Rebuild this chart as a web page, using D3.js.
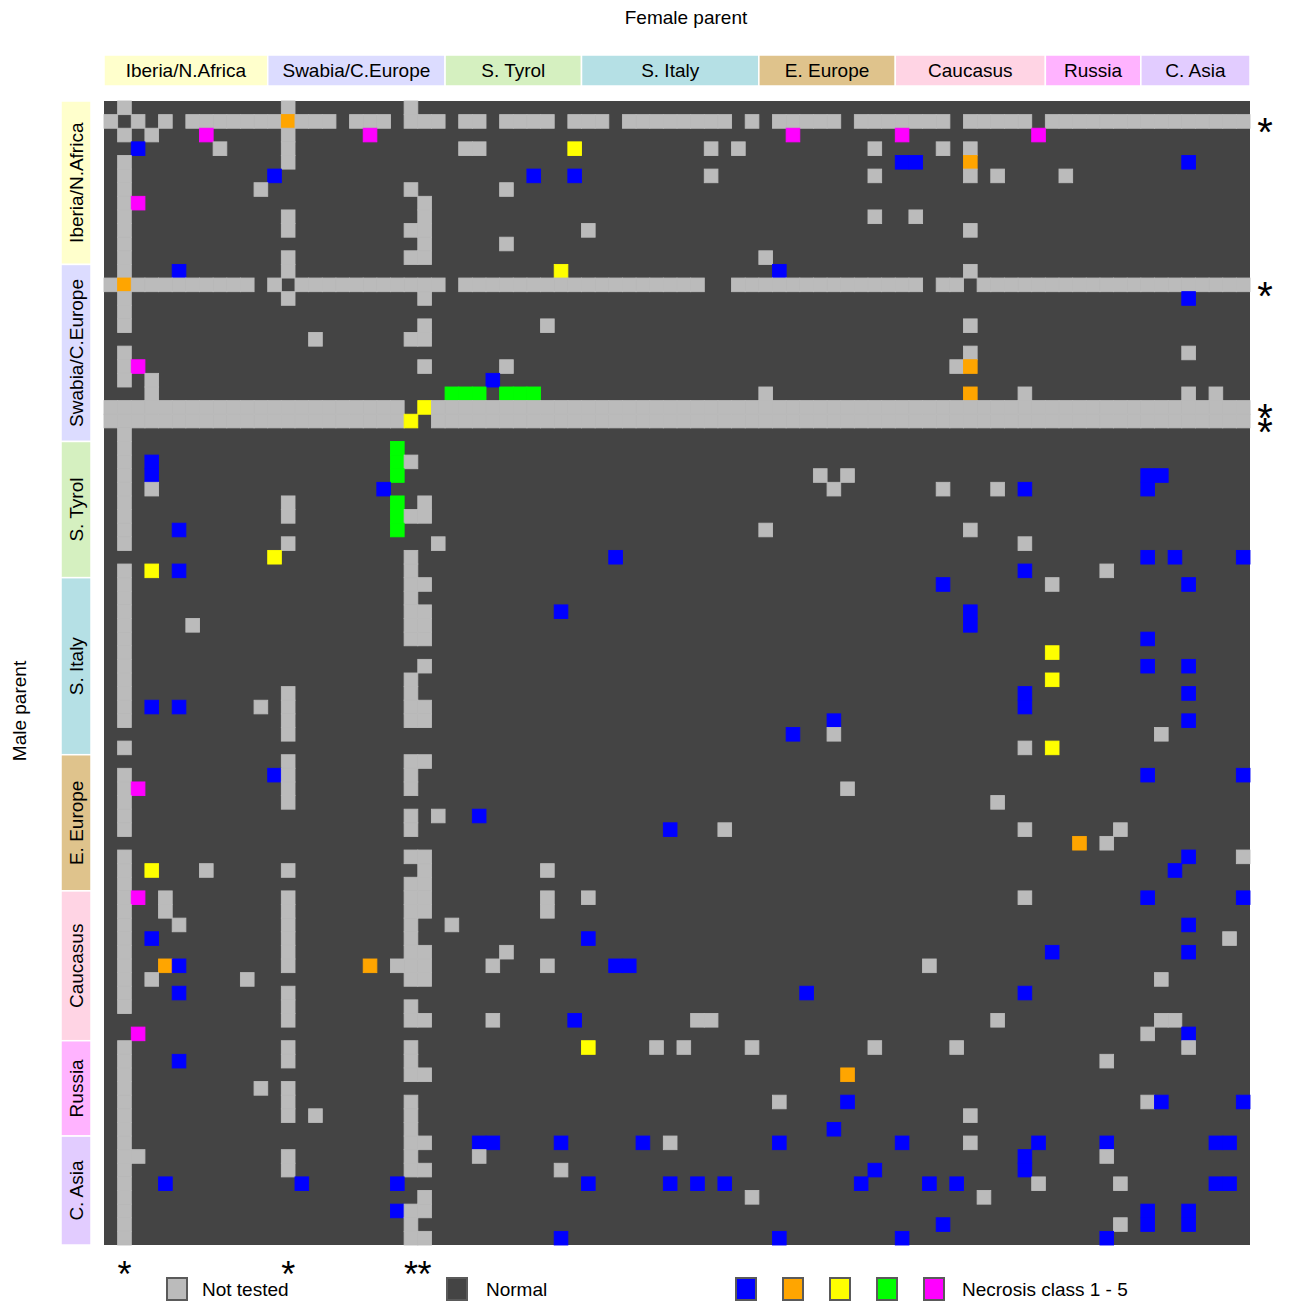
<!DOCTYPE html>
<html>
<head>
<meta charset="utf-8">
<script src="https://cdn.jsdelivr.net/npm/d3@7"></script>
<style>
  body { margin: 0; background: #fff; }
  svg { display: block; font-family: "Liberation Sans", Arial, Helvetica, sans-serif; }
</style>
</head>
<body>
<svg id="chart" width="1291" height="1304"></svg>
<script>
// regions, in the same order along both axes
const regions = ["Iberia/N.Africa", "Swabia/C.Europe", "S. Tyrol", "S. Italy", "E. Europe", "Caucasus", "Russia", "C. Asia"];
const regionSizes = [12, 13, 10, 13, 10, 11, 7, 8];
const regionColors = ["#ffffcc", "#dcdcff", "#d5f0c0", "#b5e0e5", "#dfc38c", "#ffd4e4", "#ffb3ff", "#e2ccff"];

// lines flagged with an asterisk
const flaggedRows = [1, 13, 22, 23];
const flaggedCols = [1, 13, 22, 23];

// crosses: one string per male parent (row), one char per female parent (column)
// '.' normal, 'g' not tested, '1'..'5' necrosis class; spaces only split the regions
const crosses = [
  ".g.......... .g........g.. .......... ............. .......... ........... ....... ........",
  "g.g.g.gggggg g2ggg.ggg.ggg .gg.gggg.g gg.gggggggg.g .ggggg.ggg gggg.ggggg. ggggggg gggggggg",
  ".g.g...5.... .g.....5..... .......... ............. ..5....... 5.........5 ....... ........",
  "..1.....g... .g........... .gg......3 .........g.g. ........g. ...g.g..... ....... ........",
  ".g.......... .g........... .......... ............. .......... 11...2..... ....... ...1....",
  ".g.......... 1............ ......1..1 .........g... ........g. .....g.g... .g..... ........",
  ".g.........g ..........g.. ....g..... ............. .......... ........... ....... ........",
  ".g5......... ...........g. .......... ............. .......... ........... ....... ........",
  ".g.......... .g.........g. .......... ............. ........g. .g......... ....... ........",
  ".g.......... .g........gg. .......... g............ .......... .....g..... ....... ........",
  ".g.......... ...........g. ....g..... ............. .......... ........... ....... ........",
  ".g.......... .g........gg. .......... ............. g......... ........... ....... ........",
  ".g...1...... .g........... ........3. ............. .1........ .....g..... ....... ........",
  "g2ggggggggg. g.ggggggggggg .ggggggggg ggggggggg..gg gggggggggg gg.gg.ggggg ggggggg gggggggg",
  ".g.......... .g.........g. .......... ............. .......... ........... ....... ...1....",
  ".g.......... ............. .......... ............. .......... ........... ....... ........",
  ".g.......... ...........g. .......g.. ............. .......... .....g..... ....... ........",
  "............ ...g......gg. .......... ............. .......... ........... ....... ........",
  ".g.......... ............. .......... ............. .......... .....g..... ....... ...g....",
  ".g5......... ...........g. ....g..... ............. .......... ....g2..... ....... ........",
  ".g.g........ ............. ...1...... ............. .......... ........... ....... ........",
  "...g........ ............. 444.444... ............. g......... .....2...g. ....... ...g.g..",
  "gggggggggggg gggggggggg.3g gggggggggg ggggggggggggg gggggggggg ggggggggggg ggggggg gggggggg",
  "gggggggggggg gggggggggg3.g gggggggggg ggggggggggggg gggggggggg ggggggggggg ggggggg gggggggg",
  ".g.......... ............. .......... ............. .......... ........... ....... ........",
  ".g.......... .........4... .......... ............. .......... ........... ....... ........",
  ".g.1........ .........4g.. .......... ............. .......... ........... ....... ........",
  ".g.1........ .........4... .......... ............. ....g.g... ........... ....... 11......",
  ".g.g........ ........1.... .......... ............. .....g.... ...g...g.1. ....... 1.......",
  ".g.......... .g.......4.g. .......... ............. .......... ........... ....... ........",
  ".g.......... .g.......4gg. .......... ............. .......... ........... ....... ........",
  ".g...1...... .........4... .......... ............. g......... .....g..... ....... ........",
  ".g.......... .g..........g .......... ............. .......... .........g. ....... ........",
  "............ 3.........g.. .......... ..1.......... .......... ........... ....... 1.1....1",
  ".g.3.1...... ..........g.. .......... ............. .......... .........1. ....g.. ........",
  ".g.......... ..........gg. .......... ............. .......... ...1....... g...... ...1....",
  ".g.......... ..........g.. .......... ............. .......... ........... ....... ........",
  ".g.......... ..........gg. ........1. ............. .......... .....1..... ....... ........",
  ".g....g..... ..........gg. .......... ............. .......... .....1..... ....... ........",
  ".g.......... ..........gg. .......... ............. .......... ........... ....... 1.......",
  ".g.......... ............. .......... ............. .......... ........... 3...... ........",
  ".g.......... ...........g. .......... ............. .......... ........... ....... 1..1....",
  ".g.......... ..........g.. .......... ............. .......... ........... 3...... ........",
  ".g.......... .g........g.. .......... ............. .......... .........1. ....... ...1....",
  ".g.1.1.....g .g........gg. .......... ............. .......... .........1. ....... ........",
  ".g.......... .g........gg. .......... ............. .....1.... ........... ....... ...1....",
  "............ .g........... .......... ............. ..1..g.... ........... ....... .g......",
  ".g.......... ............. .......... ............. .......... .........g. 3...... ........",
  "............ .g........gg. .......... ............. .......... ........... ....... ........",
  ".g.......... 1g........g.. .......... ............. .......... ........... ....... 1......1",
  ".g5......... .g........g.. .......... ............. ......g... ........... ....... ........",
  ".g.......... .g........... .......... ............. .......... .......g... ....... ........",
  ".g.......... ..........g.g ..1....... ............. .......... ........... ....... ........",
  ".g.......... ..........g.. .......... ......1...g.. .......... .........g. .....g. ........",
  "............ ............. .......... ............. .......... ........... ..2.g.. ........",
  ".g.......... ..........gg. .......... ............. .......... ........... ....... ...1...g",
  ".g.3...g.... .g.........g. .......g.. ............. .......... ........... ....... ..1.....",
  ".g.......... ..........gg. .......... ............. .......... ........... ....... ........",
  ".g5.g....... .g........gg. .......g.. g............ .......... .........g. ....... 1......1",
  ".g..g....... .g........gg. .......g.. ............. .......... ........... ....... ........",
  ".g...g...... .g........g.. g......... ............. .......... ........... ....... ...1....",
  ".g.1........ .g........g.. .......... 1............ .......... ........... ....... ......g.",
  ".g.......... .g........gg. ....g..... ............. .......... ........... 1...... ...1....",
  ".g..21...... .g.....2.ggg. ...g...g.. ..11......... .......... ..g........ ....... ........",
  ".g.g......g. ..........gg. .......... ............. .......... ........... ....... .g......",
  ".g...1...... .g........... .......... ............. ...1...... .........1. ....... ........",
  ".g.......... .g........g.. .......... ............. .......... ........... ....... ........",
  "............ .g........gg. ...g.....1 ........gg... .......... .......g... ....... .gg.....",
  "..5......... ............. .......... ............. .......... ........... ....... g..1....",
  ".g.......... .g........g.. .......... 3....g.g....g ........g. ....g...... ....... ...g....",
  ".g...1...... .g........g.. .......... ............. .......... ........... ....g.. ........",
  ".g.......... ..........gg. .......... ............. ......2... ........... ....... ........",
  ".g.........g .g........... .......... ............. .......... ........... ....... ........",
  ".g.......... .g........g.. .......... ............. .g....1... ........... ....... g1.....1",
  ".g.......... .g.g......g.. .......... ............. .......... .....g..... ....... ........",
  ".g.......... ..........g.. .......... ............. .....1.... ........... ....... ........",
  ".g.......... ..........gg. ..11....1. ....1.g...... .1........ 1....g....1 ....1.. .....11.",
  ".gg......... .g........g.. ..g....... ............. .......... .........1. ....g.. ........",
  ".g.......... .g........gg. ........g. ............. ........1. .........1. ....... ........",
  ".g..1....... ..1......1... .......... 1.....1.1.1.. .......1.. ..1.1.....g .....g. .....11.",
  ".g.......... ...........g. .......... ............g .......... ......g.... ....... ........",
  ".g.......... .........1gg. .......... ............. .......... ........... ....... 1..1....",
  ".g.......... ..........g.. .......... ............. .......... ...1....... .....g. 1..1....",
  ".g.......... ..........gg. ........1. ............. .1........ 1.......... ....1.. ........"
];

const statusColor = {
  ".": "#444444", "g": "#bbbbbb",
  "1": "#0000ff", "2": "#ffa500", "3": "#ffff00", "4": "#00ff00", "5": "#ff00ff"
};
const necrosisClasses = ["1", "2", "3", "4", "5"];

// -------------------------------------------------------------------------
const n = d3.sum(regionSizes);
const starts = Array.from(d3.cumsum([0, ...regionSizes]));
const cells = [];
crosses.forEach((row, r) => {
  const s = row.replace(/ /g, "");
  if (s.length !== n) console.warn("row", r, "has", s.length, "cells");
  s.split("").forEach((v, c) => cells.push({ r, c, v }));
});

const svg = d3.select("#chart");
const x = d3.scaleBand().domain(d3.range(n)).range([104, 1250]);
const y = d3.scaleBand().domain(d3.range(n)).range([101, 1245]);
const bw = x.bandwidth(), bh = y.bandwidth();

// heatmap: dark background = "normal", then every other cell on top
svg.append("rect")
  .attr("x", 104).attr("y", 101).attr("width", 1146).attr("height", 1144)
  .attr("fill", statusColor["."]);

svg.append("g")
  .selectAll("rect")
  .data(cells.filter(d => d.v !== "."))
  .join("rect")
  .attr("x", d => x(d.c)).attr("y", d => y(d.r))
  .attr("width", bw).attr("height", bh)
  .attr("fill", d => statusColor[d.v])
  .attr("stroke", d => statusColor[d.v])
  .attr("stroke-width", 0.9);

// region bands, top (female) and left (male)
const topBands = svg.append("g");
topBands.selectAll("rect").data(regions).join("rect")
  .attr("x", (d, i) => x(starts[i])).attr("y", 55)
  .attr("width", (d, i) => regionSizes[i] * bw).attr("height", 31)
  .attr("fill", (d, i) => regionColors[i])
  .attr("stroke", "#fff").attr("stroke-width", 1.5);
topBands.selectAll("text").data(regions).join("text")
  .attr("x", (d, i) => x(starts[i]) + regionSizes[i] * bw / 2).attr("y", 70.5)
  .attr("dy", "0.35em").attr("text-anchor", "middle")
  .attr("font-size", 19).attr("fill", "#000")
  .text(d => d);

const leftBands = svg.append("g");
leftBands.selectAll("rect").data(regions).join("rect")
  .attr("x", 61).attr("y", (d, i) => y(starts[i]))
  .attr("width", 30).attr("height", (d, i) => regionSizes[i] * bh)
  .attr("fill", (d, i) => regionColors[i])
  .attr("stroke", "#fff").attr("stroke-width", 1.5);
leftBands.selectAll("text").data(regions).join("text")
  .attr("transform", (d, i) => `translate(76,${y(starts[i]) + regionSizes[i] * bh / 2}) rotate(-90)`)
  .attr("dy", "0.35em").attr("text-anchor", "middle")
  .attr("font-size", 19).attr("fill", "#000")
  .text(d => d);

// axis titles
svg.append("text").attr("x", 686).attr("y", 17).attr("dy", "0.35em")
  .attr("text-anchor", "middle").attr("font-size", 19).text("Female parent");
svg.append("text").attr("transform", "translate(19,711) rotate(-90)").attr("dy", "0.35em")
  .attr("text-anchor", "middle").attr("font-size", 19).text("Male parent");

// asterisks (the two for lines 22/23 sit close together, as in the original)
svg.append("g").selectAll("text").data(flaggedRows).join("text")
  .attr("x", 1265).attr("y", d => y(d) + bh / 2 + 25)
  .attr("text-anchor", "middle").attr("font-size", 40).text("*");
svg.append("g").selectAll("text").data(flaggedCols).join("text")
  .attr("x", d => x(d) + bw / 2).attr("y", 1287)
  .attr("text-anchor", "middle").attr("font-size", 36).text("*");

// legend
const legend = svg.append("g");
const key = (xp, v) => legend.append("rect")
  .attr("x", xp).attr("y", 1278).attr("width", 20).attr("height", 22)
  .attr("fill", statusColor[v]).attr("stroke", "#5a5a5a").attr("stroke-width", 2);
const label = (xp, t) => legend.append("text")
  .attr("x", xp).attr("y", 1289).attr("dy", "0.35em").attr("font-size", 19).text(t);

key(167, "g"); label(202, "Not tested");
key(447, "."); label(486, "Normal");
necrosisClasses.forEach((v, i) => key(736 + i * 47, v));
label(962, "Necrosis class 1 - 5");
</script>
</body>
</html>
